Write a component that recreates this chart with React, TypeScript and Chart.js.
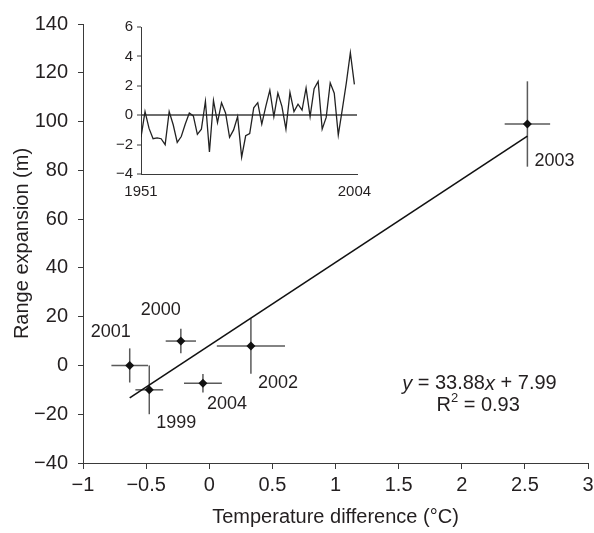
import React, { useEffect, useRef } from 'react';
import { Chart, registerables } from 'chart.js';

Chart.register(...registerables);

// ---------- main chart data ----------
const years = ['1999', '2000', '2001', '2002', '2003', '2004'];
const tempDiff = [-0.475, -0.225, -0.63, 0.33, 2.52, -0.05];
const rangeExp = [-10, 10, 0, 8, 99, -7.3];
const tempErr = [0.11, 0.12, 0.145, 0.27, 0.18, 0.15];
const rangeErr = [10, 5, 7, 11.4, 17.5, 3.8];
const fitX = [-0.63, 2.52];
const fitY = [-13.3, 94];
const xTicks = [-1, -0.5, 0, 0.5, 1, 1.5, 2, 2.5, 3];
const yTicks = [-40, -20, 0, 20, 40, 60, 80, 100, 120, 140];
const eqSlope = '33.88';
const eqIntercept = '7.99';
const eqR2 = '0.93';

// ---------- inset data ----------
const insetYears = [
  1951, 1952, 1953, 1954, 1955, 1956, 1957, 1958, 1959, 1960,
  1961, 1962, 1963, 1964, 1965, 1966, 1967, 1968, 1969, 1970,
  1971, 1972, 1973, 1974, 1975, 1976, 1977, 1978, 1979, 1980,
  1981, 1982, 1983, 1984, 1985, 1986, 1987, 1988, 1989, 1990,
  1991, 1992, 1993, 1994, 1995, 1996, 1997, 1998, 1999, 2000,
  2001, 2002, 2003, 2004,
];
const insetValues = [
  -1.5, 0.25, -0.9, -1.6, -1.55, -1.6, -2.0, 0.25, -0.65, -1.85,
  -1.45, -0.6, 0.15, -0.05, -1.3, -0.95, 0.95, -2.5, 1.0, -0.5,
  0.85, 0.15, -1.5, -1.0, -0.1, -2.85, -1.4, -1.25, 0.5, 0.85,
  -0.6, 0.6, 1.7, -0.1, 1.5, 0.6, -0.95, 1.55, 0.25, 0.75,
  0.35, 1.85, -0.1, 1.8, 2.3, -0.95, -0.15, 2.2, 1.5, -1.35,
  0.4, 2.2, 4.25, 2.1,
];
const insetYTicks = [-4, -2, 0, 2, 4, 6];
const insetXTicks = [1951, 2004];

// ---------- styling / placement (not data) ----------
const FONT = "'Liberation Sans', Arial, Helvetica, sans-serif";
const TEXT = '#231f20';
const AXIS = '#3a3a3a';
// label offsets (px) relative to each point, same order as years
const labelOffsets: [number, number][] = [
  [27, 33], [-20, -31], [-19, -33], [27, 37], [27, 37], [24, 21],
];
// equation anchor in data coordinates
const eqAnchor = { x: 2.14, y: -7.6 };
const r2Anchor = { x: 2.13, y: -16.6 };

const fmt = (v: number) => (v < 0 ? '\u2212' + String(Math.abs(v)) : String(v));

const labelPlugin = {
  id: 'pointLabels',
  afterDatasetsDraw(chart: any) {
    const { ctx, scales } = chart;
    const x = scales.x;
    const y = scales.y;
    ctx.save();
    ctx.fillStyle = TEXT;
    ctx.textBaseline = 'middle';
    ctx.textAlign = 'center';
    ctx.font = `18px ${FONT}`;
    years.forEach((yr, i) => {
      const px = x.getPixelForValue(tempDiff[i]) + labelOffsets[i][0];
      const py = y.getPixelForValue(rangeExp[i]) + labelOffsets[i][1];
      ctx.fillText(yr, px, py);
    });

    // equation line
    ctx.textAlign = 'left';
    const normal = `20px ${FONT}`;
    const italic = `italic 20px ${FONT}`;
    const parts: [string, string][] = [
      ['y', italic],
      [' = ' + eqSlope, normal],
      ['x', italic],
      [' + ' + eqIntercept, normal],
    ];
    let total = 0;
    parts.forEach(([t, f]) => {
      ctx.font = f;
      total += ctx.measureText(t).width;
    });
    let cx = x.getPixelForValue(eqAnchor.x) - total / 2;
    const cy = y.getPixelForValue(eqAnchor.y);
    parts.forEach(([t, f]) => {
      ctx.font = f;
      ctx.fillText(t, cx, cy);
      cx += ctx.measureText(t).width;
    });

    // R^2 line
    const sup = `13px ${FONT}`;
    const rParts: [string, string, number][] = [
      ['R', normal, 0],
      ['2', sup, -8],
      [' = ' + eqR2, normal, 0],
    ];
    total = 0;
    rParts.forEach(([t, f]) => {
      ctx.font = f;
      total += ctx.measureText(t).width;
    });
    cx = x.getPixelForValue(r2Anchor.x) - total / 2;
    const ry = y.getPixelForValue(r2Anchor.y);
    rParts.forEach(([t, f, dy]) => {
      ctx.font = f;
      ctx.fillText(t, cx, ry + dy);
      cx += ctx.measureText(t).width;
    });
    ctx.restore();
  },
};

export default function App() {
  const mainRef = useRef<HTMLCanvasElement>(null);
  const insetRef = useRef<HTMLCanvasElement>(null);

  useEffect(() => {
    if (!mainRef.current || !insetRef.current) return;
    Chart.defaults.font.family = FONT;
    Chart.defaults.color = TEXT;

    const errDatasets: any[] = [];
    years.forEach((_, i) => {
      errDatasets.push({
        type: 'line',
        data: [
          { x: tempDiff[i] - tempErr[i], y: rangeExp[i] },
          { x: tempDiff[i] + tempErr[i], y: rangeExp[i] },
        ],
        borderColor: '#5a5a5a',
        borderWidth: 1.5,
        pointRadius: 0,
        order: 2,
      });
      errDatasets.push({
        type: 'line',
        data: [
          { x: tempDiff[i], y: rangeExp[i] - rangeErr[i] },
          { x: tempDiff[i], y: rangeExp[i] + rangeErr[i] },
        ],
        borderColor: '#5a5a5a',
        borderWidth: 1.5,
        pointRadius: 0,
        order: 2,
      });
    });

    const main = new Chart(mainRef.current, {
      type: 'scatter',
      data: {
        datasets: [
          ...errDatasets,
          {
            type: 'line',
            data: fitX.map((v, i) => ({ x: v, y: fitY[i] })),
            borderColor: '#111',
            borderWidth: 1.6,
            pointRadius: 0,
            order: 1,
          },
          {
            type: 'scatter',
            data: tempDiff.map((v, i) => ({ x: v, y: rangeExp[i] })),
            pointStyle: 'rectRot',
            pointRadius: 4.5,
            backgroundColor: '#111',
            borderColor: '#111',
            borderWidth: 0,
            order: 0,
          },
        ] as any,
      },
      options: {
        responsive: false,
        devicePixelRatio: 1,
        animation: false,
        layout: { padding: { top: 24, right: 6, left: 0, bottom: 0 } },
        plugins: { legend: { display: false }, tooltip: { enabled: false } },
        scales: {
          x: {
            type: 'linear',
            min: -1,
            max: 3,
            afterBuildTicks: (s: any) => {
              s.ticks = xTicks.map((v) => ({ value: v }));
            },
            afterFit: (s: any) => {
              s.height = 70;
              s.paddingLeft = 0;
              s.paddingRight = 0;
            },
            ticks: {
              callback: (v: any) => fmt(Number(v)),
              font: { size: 20 },
              color: TEXT,
              padding: 4,
              maxRotation: 0,
            },
            grid: { drawOnChartArea: false, drawTicks: true, tickLength: 6, tickColor: AXIS, tickWidth: 1 },
            border: { display: true, color: AXIS, width: 1 },
            title: {
              display: true,
              text: 'Temperature difference (\u00B0C)',
              font: { size: 20 },
              color: TEXT,
              padding: { top: 0, bottom: 4 },
            },
          },
          y: {
            type: 'linear',
            min: -40,
            max: 140,
            afterBuildTicks: (s: any) => {
              s.ticks = yTicks.map((v) => ({ value: v }));
            },
            afterFit: (s: any) => {
              s.width = 83;
              s.paddingTop = 0;
              s.paddingBottom = 0;
            },
            ticks: {
              callback: (v: any) => fmt(Number(v)),
              font: { size: 20 },
              color: TEXT,
              padding: 10,
            },
            grid: { drawOnChartArea: false, drawTicks: true, tickLength: 5, tickColor: AXIS, tickWidth: 1 },
            border: { display: true, color: AXIS, width: 1 },
            title: {
              display: true,
              text: 'Range expansion (m)',
              font: { size: 20 },
              color: TEXT,
              padding: { top: 10, bottom: 0 },
            },
          },
        },
      } as any,
      plugins: [labelPlugin],
    });

    const inset = new Chart(insetRef.current, {
      type: 'line',
      data: {
        datasets: [
          {
            data: insetYears.map((yr, i) => ({ x: yr, y: insetValues[i] })),
            borderColor: '#222',
            borderWidth: 1.3,
            pointRadius: 0,
            tension: 0,
          },
        ],
      },
      options: {
        responsive: false,
        devicePixelRatio: 1,
        animation: false,
        layout: { padding: { top: 27, right: 237, left: 101, bottom: 334 } },
        plugins: { legend: { display: false }, tooltip: { enabled: false } },
        scales: {
          x: {
            type: 'linear',
            min: 1951,
            max: 2004.65,
            afterBuildTicks: (s: any) => {
              s.ticks = insetXTicks.map((v) => ({ value: v }));
            },
            afterFit: (s: any) => {
              s.height = 25;
              s.paddingLeft = 0;
              s.paddingRight = 0;
            },
            ticks: {
              callback: (v: any) => String(v),
              font: { size: 15 },
              color: TEXT,
              padding: 9,
              maxRotation: 0,
              autoSkip: false,
            },
            grid: { display: false, drawTicks: false },
            border: { display: true, color: AXIS, width: 1 },
          },
          y: {
            type: 'linear',
            min: -4,
            max: 6,
            afterBuildTicks: (s: any) => {
              s.ticks = insetYTicks.map((v) => ({ value: v }));
            },
            afterFit: (s: any) => {
              s.width = 40;
              s.paddingTop = 0;
              s.paddingBottom = 0;
            },
            ticks: {
              callback: (v: any) => fmt(Number(v)),
              font: { size: 15 },
              color: TEXT,
              padding: 4,
            },
            grid: {
              drawOnChartArea: true,
              drawTicks: true,
              tickLength: 4,
              tickColor: AXIS,
              tickWidth: 1,
              color: (c: any) => (c.tick && c.tick.value === 0 ? '#6e6e6e' : 'rgba(0,0,0,0)'),
              lineWidth: (c: any) => (c.tick && c.tick.value === 0 ? 2 : 0),
            },
            border: { display: true, color: AXIS, width: 1 },
          },
        },
      } as any,
    });

    return () => {
      main.destroy();
      inset.destroy();
    };
  }, []);

  return (
    <div style={{ position: 'absolute', left: 0, top: 0, width: 594, height: 533, background: '#fff' }}>
      <canvas ref={mainRef} width={594} height={533} style={{ position: 'absolute', left: 0, top: 0 }} />
      <canvas ref={insetRef} width={594} height={533} style={{ position: 'absolute', left: 0, top: 0 }} />
    </div>
  );
}
